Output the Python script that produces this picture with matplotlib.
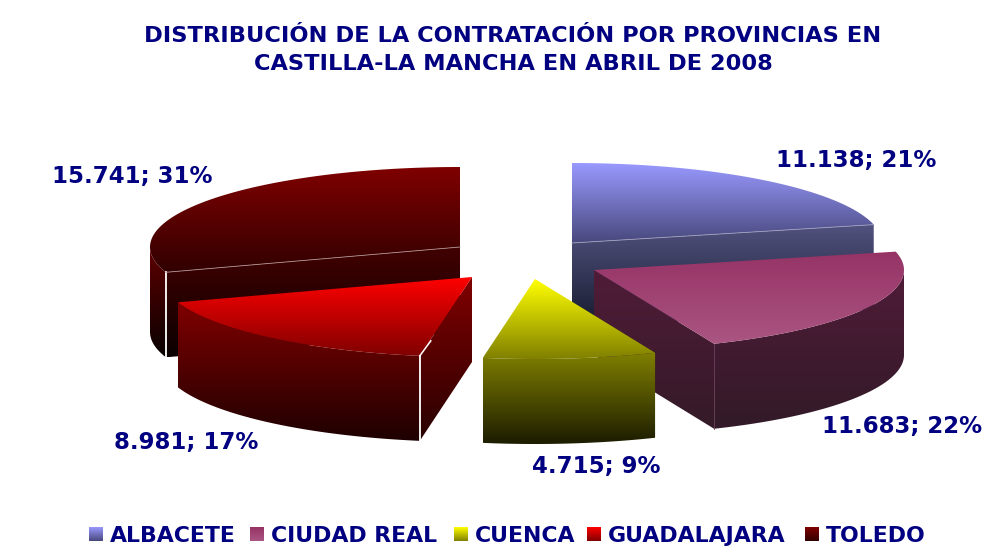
import numpy as np
import matplotlib
matplotlib.use('Agg')
import matplotlib.pyplot as plt
from matplotlib.path import Path
from matplotlib.patches import PathPatch

# datos
provincias = ['ALBACETE', 'CIUDAD REAL', 'CUENCA', 'GUADALAJARA', 'TOLEDO']
contratos = [11138, 11683, 4715, 8981, 15741]
porcentajes = [21, 22, 9, 17, 31]

titulo = 'DISTRIBUCIÓN DE LA CONTRATACIÓN POR PROVINCIAS EN\nCASTILLA-LA MANCHA EN ABRIL DE 2008'
azul = '#000080'

# centro de cada porcion (pixeles), elipse y grosor
centros = [(572, 243), (594, 270), (535, 279), (472, 277), (460, 247)]
A, B, GROSOR = 310, 80, 85

# colores: cara superior (arriba, abajo), borde, corte
sup = [('#9999ff', '#48487d'), ('#963366', '#aa5582'), ('#ffff00', '#808000'),
       ('#ff0000', '#800000'), ('#800000', '#320000')]
borde = [('#4e4e80', '#141a2c'), ('#501c38', '#321a28'), ('#808000', '#1c1c00'),
         ('#800000', '#1e0000'), ('#600000', '#080000')]
corte = [('#52527f', '#141a2c'), ('#501c38', '#341a28'), ('#808000', '#1c1c00'),
         ('#800000', '#280000'), ('#420000', '#0c0000')]
pos_etiq = [(856, 160), (902, 426), (596, 467), (186, 442), (132, 176)]
pos_leyenda = [89, 250, 454, 587, 805]

fig = plt.figure(figsize=(10.08, 5.56), dpi=100)
ax = fig.add_axes([0, 0, 1, 1])
ax.set_xlim(0, 1008)
ax.set_ylim(556, 0)
ax.axis('off')


def punto(c, t):
    # t en grados, desde las 12 en sentido horario
    return c[0] + A * np.sin(np.radians(t)), c[1] - B * np.cos(np.radians(t))


def degradado(x, y, c1, c2, z):
    x0, x1 = min(x), max(x)
    y0, y1 = min(y), max(y)
    a = np.array(matplotlib.colors.to_rgb(c1))
    b = np.array(matplotlib.colors.to_rgb(c2))
    f = np.linspace(0, 1, 128)[:, None]
    img = (a * (1 - f) + b * f)[:, None, :]
    im = ax.imshow(img, extent=(x0, x1, y1, y0), aspect='auto', zorder=z, interpolation='bilinear')
    verts = np.column_stack([x, y])
    p = PathPatch(Path(np.vstack([verts, verts[0]]), closed=True), transform=ax.transData,
                  fc='none', ec='none')
    ax.add_patch(p)
    im.set_clip_path(p)


angulos = np.cumsum([0] + contratos) / sum(contratos) * 360

# orden de dibujo: detras primero
orden = [4, 0, 1, 3, 2]
z = 2
for i in orden:
    c = centros[i]
    t1, t2 = angulos[i], angulos[i + 1]

    # cortes visibles
    t_corte = {0: t2, 1: t2, 3: t1, 4: t1}.get(i)
    if t_corte is not None:
        px, py = punto(c, t_corte)
        degradado([c[0], px, px, c[0]], [c[1], py, py + GROSOR, c[1] + GROSOR],
                  corte[i][0], corte[i][1], z)
        z += 1

    # borde exterior, solo la parte de delante
    a1, a2 = max(t1, 90), min(t2, 270)
    if a2 > a1:
        ts = np.linspace(a1, a2, 60)
        xs, ys = punto(c, ts)
        degradado(list(xs) + list(xs[::-1]), list(ys) + list(ys[::-1] + GROSOR),
                  borde[i][0], borde[i][1], z)
        z += 1

    # cara superior
    ts = np.linspace(t1, t2, 80)
    xs, ys = punto(c, ts)
    degradado([c[0]] + list(xs), [c[1]] + list(ys), sup[i][0], sup[i][1], z)
    z += 1

    # lineas finas de las aristas
    if i == 3:
        px, py = punto(c, t1)
        ax.plot([px, px], [py, py + GROSOR], color='white', lw=1.3, zorder=z)
        ax.plot([px, px + 11], [py, py - 15], color='white', lw=1.1, zorder=z)
    if i == 4:
        px, py = punto(c, t1)
        ax.plot([px, px], [py, py + GROSOR], color='white', lw=1.3, zorder=z)
        ax.plot([px, c[0]], [py, c[1]], color='#b09090', lw=0.6, zorder=z)
    if i == 0:
        px, py = punto(c, t2)
        ax.plot([c[0], px], [c[1], py], color='#a0a0c0', lw=0.6, zorder=z)
    if i == 1:
        px, py = punto(c, t2)
        ax.plot([px, px], [py, py + GROSOR], color='#6a4058', lw=0.6, zorder=z)
    z += 1

# etiquetas de datos
for i in range(len(provincias)):
    texto = f'{contratos[i] // 1000}.{contratos[i] % 1000:03d}; {porcentajes[i]}%'
    ax.text(pos_etiq[i][0], pos_etiq[i][1], texto, color=azul, fontsize=16.5, fontweight='bold',
            ha='center', va='center', zorder=50)

ax.text(513, 50, titulo, color=azul, fontsize=16.2, fontweight='bold', ha='center', va='center',
        linespacing=1.46, zorder=50)

# leyenda
for i in range(len(provincias)):
    x0 = pos_leyenda[i]
    degradado([x0, x0 + 14, x0 + 14, x0], [527, 527, 541, 541], sup[i][0], sup[i][1], 40)
    ax.text(x0 + 21, 542, provincias[i], color=azul, fontsize=15.8, fontweight='bold',
            ha='left', va='baseline', zorder=50)

ax.set_xlim(0, 1008)
ax.set_ylim(556, 0)
fig.savefig('out.png', dpi=100, facecolor='white')
